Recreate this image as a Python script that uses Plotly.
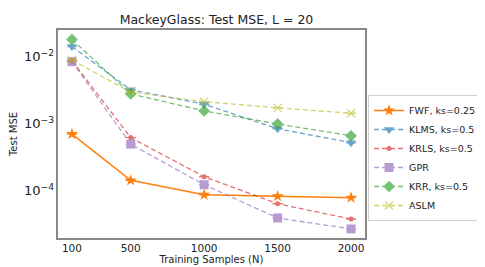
import plotly.graph_objects as go

N = [100, 500, 1000, 1500, 2000]
series_names = ["FWF, ks=0.25", "KLMS, ks=0.5", "KRLS, ks=0.5", "GPR", "KRR, ks=0.5", "ASLM"]
fwf = [7.0e-4, 1.43e-4, 8.7e-5, 8.3e-5, 7.9e-5]
klms = [1.41e-2, 3.2e-3, 1.95e-3, 8.4e-4, 5.2e-4]
krls = [8.7e-3, 6.2e-4, 1.62e-4, 6.4e-5, 3.8e-5]
gpr = [8.4e-3, 4.95e-4, 1.23e-4, 3.93e-5, 2.7e-5]
krr = [1.8e-2, 2.78e-3, 1.55e-3, 9.9e-4, 6.6e-4]
aslm = [8.9e-3, 2.95e-3, 2.13e-3, 1.72e-3, 1.43e-3]

values = [fwf, klms, krls, gpr, krr, aslm]
colors = ["#ff7f0e", "#1f77b4", "#d62728", "#9467bd", "#2ca02c", "#bcbd22"]
symbols = ["star", "triangle-down", "circle", "square", "diamond", "x-thin-open"]
sizes = [9, 9, 5, 9, 9, 8]
dashes = ["solid", "dash", "dash", "dash", "dash", "dash"]
opac = [1.0, 0.65, 0.65, 0.65, 0.65, 0.65]

fig = go.Figure()
for name, v, c, s, sz, d, o in zip(series_names, values, colors, symbols, sizes, dashes, opac):
    fig.add_trace(go.Scatter(
        x=N, y=v, name=name, mode="lines+markers",
        line=dict(color=c, width=1.5 if d == "solid" else 1.3, dash=d if d == "solid" else "5px,3px"),
        marker=dict(symbol=s, size=sz, color=c, line=dict(color=c, width=1.2 if s.startswith("x") else 0)),
        error_y=dict(type="data", array=[0] * len(v), width=5, thickness=1, color=c),
        opacity=o,
    ))

fig.update_layout(
    width=485, height=267,
    margin=dict(l=50, r=113, t=22, b=37),
    paper_bgcolor="white", plot_bgcolor="white",
    font=dict(family="DejaVu Sans", size=10, color="#222"),
    title=dict(text="MackeyGlass: Test MSE, L = 20", x=(50 + 367) / 2 / 485, xanchor="center",
               y=1 - 12 / 267, yanchor="middle", font=dict(size=12.5)),
    legend=dict(x=1.01, y=(230 - 150) / 208, xanchor="left", yanchor="middle",
                bordercolor="#d0d0d0", borderwidth=1, font=dict(size=9.5),
                tracegroupgap=0, itemwidth=30),
    showlegend=True,
)
fig.update_xaxes(
    range=[5, 2095], tickvals=N, ticktext=[str(n) for n in N], automargin=False,
    title=dict(text="Training Samples (N)", standoff=2, font=dict(size=10)),
    showgrid=False, zeroline=False, showline=True, linecolor="#888", linewidth=1.5, mirror=True,
    ticks="", tickfont=dict(size=10.5),
)
fig.update_yaxes(
    type="log", range=[-4.704, -1.604], dtick=1, exponentformat="power", automargin=False,
    title=dict(text="Test MSE", standoff=4, font=dict(size=10)),
    showgrid=False, zeroline=False, showline=True, linecolor="#888", linewidth=1.5, mirror=True,
    ticks="", tickfont=dict(size=10.5),
)
fig.write_html("out.html")
